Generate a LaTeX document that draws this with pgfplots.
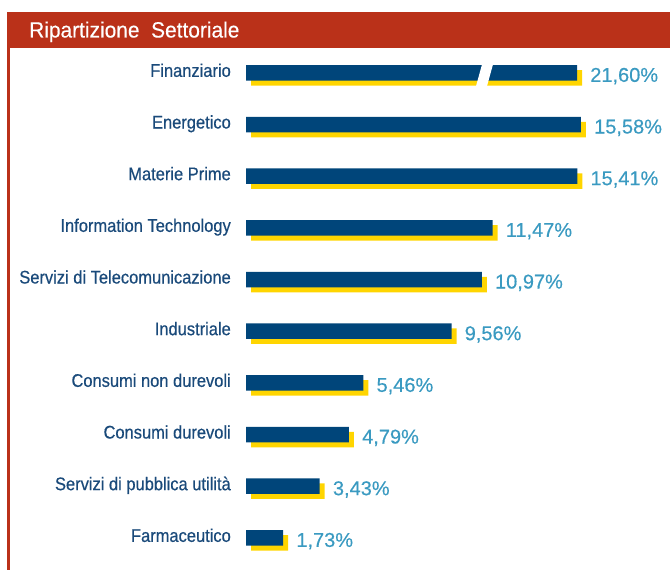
\documentclass[border=0pt]{standalone}
\usepackage{pgfplots}
\pgfplotsset{compat=1.18}
\usepackage{pgfplotstable}
\usepackage{fontspec}
\setmainfont{Liberation Sans}
\newfontfamily\catfont[FakeStretch=0.9, FakeBold=0.5]{Liberation Sans}
\newfontfamily\valfont[FakeBold=0.4]{Liberation Sans}
\newfontfamily\headfont[FakeStretch=0.95, FakeBold=0.3]{Liberation Sans}
\definecolor{headred}{RGB}{186,49,25}
\definecolor{barblue}{RGB}{0,69,122}
\definecolor{baryellow}{RGB}{255,213,0}
\definecolor{valblue}{RGB}{58,154,193}
\definecolor{catblue}{RGB}{26,74,122}
\pgfplotstableread{
idx len value label
0 15.40 21.60 21,60
1 15.58 15.58 15,58
2 15.41 15.41 15,41
3 11.47 11.47 11,47
4 10.97 10.97 10,97
5 9.56 9.56 9,56
6 5.46 5.46 5,46
7 4.79 4.79 4,79
8 3.43 3.43 3,43
9 1.73 1.73 1,73
}\data
\begin{document}
\begin{tikzpicture}
\fill[headred] (7bp,522bp) rectangle (670bp,558bp);
\node[anchor=base west, inner sep=0pt, text=white, font=\headfont\fontsize{22bp}{24bp}\selectfont] at (29bp,532.5bp) {Ripartizione\ \ Settoriale};
\fill[headred] (7.3bp,0bp) rectangle (10bp,522bp);
\begin{axis}[
  anchor=north west, at={(246bp,523bp)},
  x=21.5bp, y=51.67bp, y dir=reverse,
  xmin=0, xmax=20, ymin=-0.5, ymax=9.5,
  xbar, bar width=15.5bp,
  axis line style={draw=none},
  major tick length=0pt,
  xtick=\empty,
  ytick={0,...,9},
  yticklabels={Finanziario,Energetico,Materie Prime,Information Technology,Servizi di Telecomunicazione,Industriale,Consumi non durevoli,Consumi durevoli,Servizi di pubblica utilità,Farmaceutico},
  yticklabel style={font=\catfont\fontsize{18.3bp}{20bp}\selectfont, text=catblue, anchor=base east, inner sep=0pt, xshift=-15bp, yshift=-4bp},
  clip=false,
]
\addplot[fill=baryellow, draw=none, bar shift=0pt, xshift=5bp, yshift=-5bp, forget plot] table[x=len, y=idx] {\data};
\addplot[fill=barblue, draw=none, bar shift=0pt,
  point meta=explicit symbolic,
  nodes near coords={\pgfplotspointmeta\%},
  every node near coord/.style={anchor=base west, inner sep=0pt, xshift=13bp, yshift=-9bp, text=valblue, font=\valfont\fontsize{20bp}{24bp}\selectfont}
] table[x=len, y=idx, meta=label] {\data};
\fill[white] (axis cs:10.70,0.255) -- (axis cs:10.97,-0.151) -- (axis cs:11.48,-0.151) -- (axis cs:11.21,0.255) -- cycle;
\end{axis}
\pgfresetboundingbox
\path (0,0) rectangle (670bp,570bp);
\end{tikzpicture}
\end{document}
